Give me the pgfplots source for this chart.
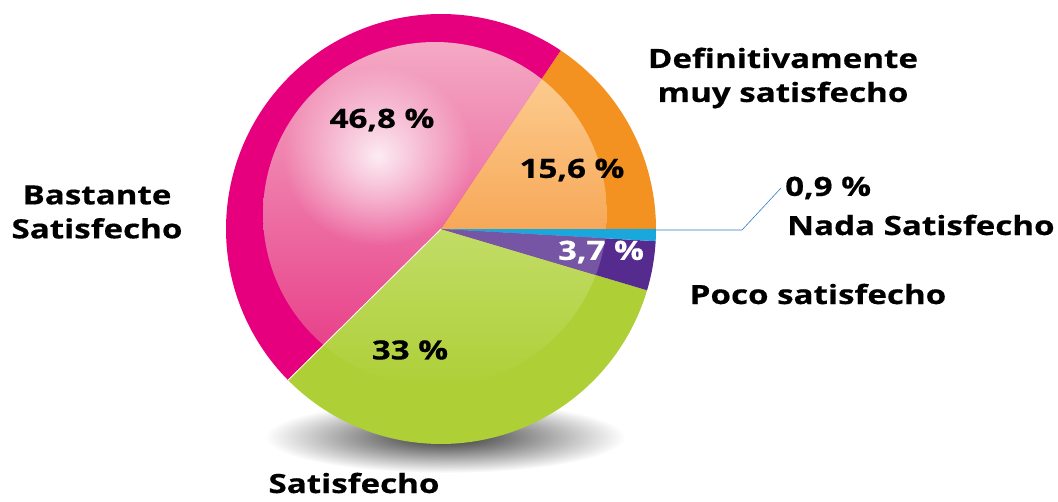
\documentclass[border=0pt]{standalone}
\usepackage{pgfplots}
\usepackage{pgfplotstable}
\pgfplotsset{compat=1.18}
\usepackage{fontspec}
\setmainfont{Open Sans}[BoldFeatures={FakeStretch=1.25,FakeBold=0.5}]
\usetikzlibrary{fadings}

\definecolor{rimPink}{HTML}{E6007E}
\definecolor{inPinkTop}{HTML}{F4A9C4}
\definecolor{inPinkBot}{HTML}{E8428A}
\definecolor{rimOrange}{HTML}{F39220}
\definecolor{inOrangeTop}{HTML}{FCCB8E}
\definecolor{inOrangeBot}{HTML}{F7A858}
\definecolor{rimGreen}{HTML}{AECF36}
\definecolor{inGreenTop}{HTML}{C2DC66}
\definecolor{inGreenBot}{HTML}{AFCF38}
\definecolor{rimPurple}{HTML}{552B8F}
\definecolor{inPurple}{HTML}{7755A5}
\definecolor{nadaCyan}{HTML}{1AA8DC}
\definecolor{leader}{HTML}{2E7DC2}

\tikzfading[name=softspot, inner color=transparent!15, outer color=transparent!100]
\tikzset{lbl/.style={font=\bfseries\fontsize{26.5}{34}\selectfont, inner sep=0pt}}

% share of answers, in percent
\pgfplotstableread{
cat pct
Definitivamente 15.6
Bastante 46.8
Satisfecho 33
Poco 3.7
Nada 0.9
}\piedata

\begin{document}
\begin{tikzpicture}
\pgfplotstablegetelem{0}{pct}\of\piedata \pgfmathsetmacro\pA{\pgfplotsretval}
\pgfplotstablegetelem{1}{pct}\of\piedata \pgfmathsetmacro\pB{\pgfplotsretval}
\pgfplotstablegetelem{2}{pct}\of\piedata \pgfmathsetmacro\pC{\pgfplotsretval}
\pgfplotstablegetelem{3}{pct}\of\piedata \pgfmathsetmacro\pD{\pgfplotsretval}
\pgfplotstablegetelem{4}{pct}\of\piedata \pgfmathsetmacro\pE{\pgfplotsretval}
% cumulative angles, counter-clockwise from 3 o'clock
\pgfmathsetmacro\aA{3.6*\pA}
\pgfmathsetmacro\aB{\aA+3.6*\pB}
\pgfmathsetmacro\aC{\aB+3.6*\pC}
\pgfmathsetmacro\aD{\aC+3.6*\pD}
\pgfmathsetmacro\aE{\aD+3.6*\pE}
\begin{axis}[
  x=1pt, y=1pt,
  xmin=0, xmax=1058, ymin=0, ymax=501,
  hide axis, clip=false,
  declare function={
    ud(\t)=-6*cos(\t)+15*sin(\t);
    rin(\t)=ud(\t)+sqrt(172^2-261+ud(\t)^2);
  },
]
\path (axis cs:0,0) rectangle (axis cs:1058,501);

% shadow under the pie
\addplot[draw=none, shading=radial, inner color=black!80, outer color=white,
  domain=0:360, samples=90, variable=\t]
  ({445+180*cos(\t)},{64+36*sin(\t)}) -- cycle;

% outer rim
\addplot[fill=rimOrange, draw=none, domain=0:\aA, samples=60, variable=\t]
  ({441+215*cos(\t)},{272+215*sin(\t)}) -- (axis cs:441,272) -- cycle;
\addplot[fill=rimPink, draw=none, domain=\aA:\aB, samples=120, variable=\t]
  ({441+215*cos(\t)},{272+215*sin(\t)}) -- (axis cs:441,272) -- cycle;
\addplot[fill=rimGreen, draw=none, domain=\aB:\aC, samples=100, variable=\t]
  ({441+215*cos(\t)},{272+215*sin(\t)}) -- (axis cs:441,272) -- cycle;
\addplot[fill=rimPurple, draw=none, domain=\aC:\aD, samples=20, variable=\t]
  ({441+215*cos(\t)},{272+215*sin(\t)}) -- (axis cs:441,272) -- cycle;
\addplot[fill=nadaCyan, draw=none, domain=\aD:\aE, samples=8, variable=\t]
  ({441+215*cos(\t)},{272+215*sin(\t)}) -- (axis cs:441,272) -- cycle;

% lighter inner disk
\addplot[draw=none, top color=inOrangeTop, bottom color=inOrangeBot,
  domain=0:\aA, samples=60, variable=\t]
  ({441+rin(\t)*cos(\t)},{272+rin(\t)*sin(\t)}) -- (axis cs:441,272) -- cycle;
\addplot[draw=none, top color=inPinkTop, bottom color=inPinkBot,
  domain=\aA:\aB, samples=120, variable=\t]
  ({441+rin(\t)*cos(\t)},{272+rin(\t)*sin(\t)}) -- (axis cs:441,272) -- cycle;
\addplot[draw=none, top color=inGreenTop, bottom color=inGreenBot,
  domain=\aB:\aC, samples=100, variable=\t]
  ({441+rin(\t)*cos(\t)},{272+rin(\t)*sin(\t)}) -- (axis cs:441,272) -- cycle;
\addplot[fill=inPurple, draw=none, domain=\aC:\aD, samples=20, variable=\t]
  ({441+rin(\t)*cos(\t)},{272+rin(\t)*sin(\t)}) -- (axis cs:441,272) -- cycle;

% soft highlight on the pink slice
\addplot[fill=white, draw=none, path fading=softspot,
  domain=0:360, samples=60, variable=\t]
  ({378+95*cos(\t)},{345+90*sin(\t)}) -- cycle;

% white seam between pink and green
\addplot[white, line width=0.8pt] coordinates {(441,272) (288.0,120.8)};

% leader to the 0,9 % label
\addplot[leader, line width=0.6pt] coordinates {(655,271) (742,271) (781,313)};

\node[lbl] at (axis cs:382,381) {46,8 \%};
\node[lbl] at (axis cs:572,331) {15,6 \%};
\node[lbl, text=white] at (axis cs:601,249) {3,7 \%};
\node[lbl] at (axis cs:410,151) {33 \%};

\node[lbl, align=center] at (axis cs:97,289) {Bastante\\Satisfecho};
\node[lbl, align=center] at (axis cs:783,423) {Definitivamente\\muy satisfecho};
\node[lbl, anchor=west] at (axis cs:785,313) {0,9 \%};
\node[lbl, anchor=west] at (axis cs:787,276) {Nada Satisfecho};
\node[lbl] at (axis cs:818,207) {Poco satisfecho};
\node[lbl] at (axis cs:354,18) {Satisfecho};
\end{axis}
\end{tikzpicture}
\end{document}
